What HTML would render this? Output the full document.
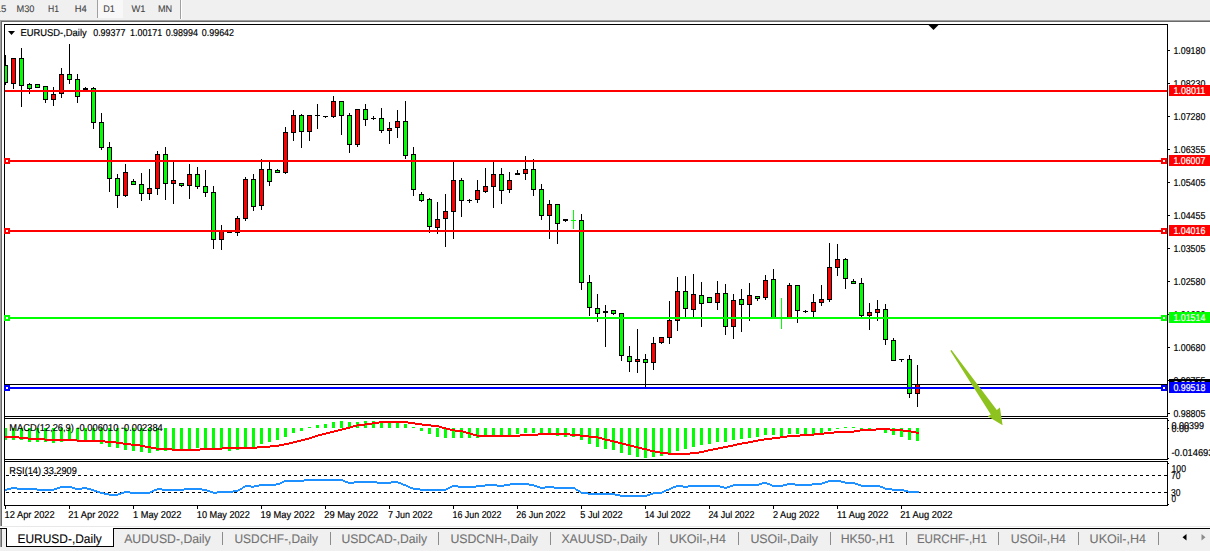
<!DOCTYPE html>
<html><head><meta charset="utf-8"><title>EURUSD-,Daily</title>
<style>html,body{margin:0;padding:0;background:#fff;overflow:hidden}svg{display:block}text{font-family:"Liberation Sans",sans-serif;text-rendering:geometricPrecision}</style>
</head><body>
<svg width="1210" height="551" viewBox="0 0 1210 551">
<rect x="0" y="0" width="1210" height="551" fill="#ffffff"/>
<g shape-rendering="crispEdges">
<rect x="0" y="0" width="1210" height="20" fill="#f0f0f0"/>
<rect x="98" y="0" width="25" height="18" fill="#f8f8f8"/>
<rect x="97" y="0" width="1" height="18" fill="#a0a0a0"/>
<rect x="180" y="0" width="1" height="19" fill="#a0a0a0"/>
<rect x="181" y="0" width="1" height="19" fill="#ffffff"/>
<rect x="0" y="20" width="1210" height="1" fill="#a0a0a0"/>
<rect x="0" y="21" width="1210" height="1" fill="#696969"/>
<rect x="0" y="22" width="1" height="504" fill="#a0a0a0"/>
<rect x="1" y="22" width="1" height="504" fill="#696969"/>
<rect x="0" y="20" width="1" height="2" fill="#a0a0a0"/>
<rect x="4" y="24" width="1164" height="1" fill="#000"/>
<rect x="4" y="24" width="1" height="482" fill="#000"/>
<rect x="1167" y="24" width="1" height="482" fill="#000"/>
<rect x="4" y="416" width="1164" height="1" fill="#000"/>
<rect x="4" y="418" width="1164" height="1" fill="#000"/>
<rect x="4" y="459" width="1164" height="1" fill="#000"/>
<rect x="4" y="461" width="1164" height="1" fill="#000"/>
<rect x="4" y="505" width="1164" height="1" fill="#000"/>
<rect x="5" y="417" width="1162" height="1" fill="#fff"/>
<rect x="5" y="460" width="1162" height="1" fill="#fff"/>
<rect x="5" y="384" width="1162" height="1" fill="#000"/>
<rect x="5" y="55" width="1" height="30" fill="#000"/>
<rect x="3" y="65" width="5" height="18" fill="#000"/>
<rect x="4" y="66" width="3" height="16" fill="#00ff00"/>
<rect x="13" y="58" width="1" height="31" fill="#000"/>
<rect x="11" y="58" width="5" height="26" fill="#000"/>
<rect x="12" y="59" width="3" height="24" fill="#ff0000"/>
<rect x="21" y="48" width="1" height="59" fill="#000"/>
<rect x="19" y="58" width="5" height="28" fill="#000"/>
<rect x="20" y="59" width="3" height="26" fill="#00ff00"/>
<rect x="29" y="83" width="1" height="11" fill="#000"/>
<rect x="27" y="84" width="5" height="5" fill="#000"/>
<rect x="28" y="85" width="3" height="3" fill="#00ff00"/>
<rect x="37" y="84" width="1" height="4" fill="#000"/>
<rect x="35" y="84" width="5" height="4" fill="#000"/>
<rect x="36" y="85" width="3" height="2" fill="#00ff00"/>
<rect x="45" y="86" width="1" height="17" fill="#000"/>
<rect x="43" y="86" width="5" height="14" fill="#000"/>
<rect x="44" y="87" width="3" height="12" fill="#00ff00"/>
<rect x="53" y="87" width="1" height="19" fill="#000"/>
<rect x="51" y="94" width="5" height="6" fill="#000"/>
<rect x="52" y="95" width="3" height="4" fill="#ff0000"/>
<rect x="61" y="68" width="1" height="30" fill="#000"/>
<rect x="59" y="74" width="5" height="20" fill="#000"/>
<rect x="60" y="75" width="3" height="18" fill="#ff0000"/>
<rect x="69" y="44" width="1" height="40" fill="#000"/>
<rect x="67" y="74" width="5" height="6" fill="#000"/>
<rect x="68" y="75" width="3" height="4" fill="#00ff00"/>
<rect x="77" y="74" width="1" height="29" fill="#000"/>
<rect x="75" y="79" width="5" height="18" fill="#000"/>
<rect x="76" y="80" width="3" height="16" fill="#00ff00"/>
<rect x="85" y="87" width="1" height="3" fill="#000"/>
<rect x="83" y="88" width="5" height="2" fill="#000"/>
<rect x="93" y="87" width="1" height="42" fill="#000"/>
<rect x="91" y="88" width="5" height="35" fill="#000"/>
<rect x="92" y="89" width="3" height="33" fill="#00ff00"/>
<rect x="101" y="113" width="1" height="37" fill="#000"/>
<rect x="99" y="122" width="5" height="26" fill="#000"/>
<rect x="100" y="123" width="3" height="24" fill="#00ff00"/>
<rect x="109" y="142" width="1" height="50" fill="#000"/>
<rect x="107" y="147" width="5" height="32" fill="#000"/>
<rect x="108" y="148" width="3" height="30" fill="#00ff00"/>
<rect x="117" y="174" width="1" height="34" fill="#000"/>
<rect x="115" y="178" width="5" height="18" fill="#000"/>
<rect x="116" y="179" width="3" height="16" fill="#00ff00"/>
<rect x="125" y="164" width="1" height="33" fill="#000"/>
<rect x="123" y="172" width="5" height="24" fill="#000"/>
<rect x="124" y="173" width="3" height="22" fill="#ff0000"/>
<rect x="133" y="179" width="1" height="6" fill="#000"/>
<rect x="131" y="181" width="5" height="4" fill="#000"/>
<rect x="132" y="182" width="3" height="2" fill="#00ff00"/>
<rect x="141" y="173" width="1" height="28" fill="#000"/>
<rect x="139" y="184" width="5" height="10" fill="#000"/>
<rect x="140" y="185" width="3" height="8" fill="#00ff00"/>
<rect x="149" y="169" width="1" height="31" fill="#000"/>
<rect x="147" y="188" width="5" height="6" fill="#000"/>
<rect x="148" y="189" width="3" height="4" fill="#ff0000"/>
<rect x="157" y="151" width="1" height="44" fill="#000"/>
<rect x="155" y="154" width="5" height="35" fill="#000"/>
<rect x="156" y="155" width="3" height="33" fill="#ff0000"/>
<rect x="165" y="147" width="1" height="53" fill="#000"/>
<rect x="163" y="154" width="5" height="30" fill="#000"/>
<rect x="164" y="155" width="3" height="28" fill="#00ff00"/>
<rect x="173" y="162" width="1" height="42" fill="#000"/>
<rect x="171" y="180" width="5" height="4" fill="#000"/>
<rect x="172" y="181" width="3" height="2" fill="#ff0000"/>
<rect x="181" y="183" width="1" height="4" fill="#000"/>
<rect x="179" y="183" width="5" height="3" fill="#000"/>
<rect x="180" y="184" width="3" height="1" fill="#00ff00"/>
<rect x="189" y="164" width="1" height="35" fill="#000"/>
<rect x="187" y="174" width="5" height="12" fill="#000"/>
<rect x="188" y="175" width="3" height="10" fill="#ff0000"/>
<rect x="197" y="167" width="1" height="22" fill="#000"/>
<rect x="195" y="174" width="5" height="13" fill="#000"/>
<rect x="196" y="175" width="3" height="11" fill="#00ff00"/>
<rect x="205" y="170" width="1" height="27" fill="#000"/>
<rect x="203" y="186" width="5" height="7" fill="#000"/>
<rect x="204" y="187" width="3" height="5" fill="#00ff00"/>
<rect x="213" y="186" width="1" height="63" fill="#000"/>
<rect x="211" y="192" width="5" height="48" fill="#000"/>
<rect x="212" y="193" width="3" height="46" fill="#00ff00"/>
<rect x="221" y="225" width="1" height="25" fill="#000"/>
<rect x="219" y="231" width="5" height="9" fill="#000"/>
<rect x="220" y="232" width="3" height="7" fill="#ff0000"/>
<rect x="229" y="232" width="1" height="1" fill="#000"/>
<rect x="227" y="232" width="5" height="1" fill="#000"/>
<rect x="237" y="216" width="1" height="20" fill="#000"/>
<rect x="235" y="218" width="5" height="15" fill="#000"/>
<rect x="236" y="219" width="3" height="13" fill="#ff0000"/>
<rect x="245" y="177" width="1" height="44" fill="#000"/>
<rect x="243" y="179" width="5" height="40" fill="#000"/>
<rect x="244" y="180" width="3" height="38" fill="#ff0000"/>
<rect x="253" y="174" width="1" height="37" fill="#000"/>
<rect x="251" y="179" width="5" height="28" fill="#000"/>
<rect x="252" y="180" width="3" height="26" fill="#00ff00"/>
<rect x="261" y="159" width="1" height="51" fill="#000"/>
<rect x="259" y="169" width="5" height="37" fill="#000"/>
<rect x="260" y="170" width="3" height="35" fill="#ff0000"/>
<rect x="269" y="162" width="1" height="24" fill="#000"/>
<rect x="267" y="169" width="5" height="13" fill="#000"/>
<rect x="268" y="170" width="3" height="11" fill="#00ff00"/>
<rect x="277" y="169" width="1" height="4" fill="#000"/>
<rect x="275" y="170" width="5" height="3" fill="#000"/>
<rect x="276" y="171" width="3" height="1" fill="#00ff00"/>
<rect x="285" y="127" width="1" height="47" fill="#000"/>
<rect x="283" y="132" width="5" height="41" fill="#000"/>
<rect x="284" y="133" width="3" height="39" fill="#ff0000"/>
<rect x="293" y="110" width="1" height="31" fill="#000"/>
<rect x="291" y="115" width="5" height="18" fill="#000"/>
<rect x="292" y="116" width="3" height="16" fill="#ff0000"/>
<rect x="301" y="114" width="1" height="34" fill="#000"/>
<rect x="299" y="115" width="5" height="17" fill="#000"/>
<rect x="300" y="116" width="3" height="15" fill="#00ff00"/>
<rect x="309" y="115" width="1" height="26" fill="#000"/>
<rect x="307" y="115" width="5" height="17" fill="#000"/>
<rect x="308" y="116" width="3" height="15" fill="#ff0000"/>
<rect x="317" y="104" width="1" height="25" fill="#000"/>
<rect x="315" y="115" width="5" height="1" fill="#000"/>
<rect x="325" y="116" width="1" height="2" fill="#000"/>
<rect x="323" y="116" width="5" height="1" fill="#000"/>
<rect x="333" y="96" width="1" height="22" fill="#000"/>
<rect x="331" y="101" width="5" height="16" fill="#000"/>
<rect x="332" y="102" width="3" height="14" fill="#ff0000"/>
<rect x="341" y="101" width="1" height="34" fill="#000"/>
<rect x="339" y="101" width="5" height="15" fill="#000"/>
<rect x="340" y="102" width="3" height="13" fill="#00ff00"/>
<rect x="349" y="113" width="1" height="40" fill="#000"/>
<rect x="347" y="115" width="5" height="30" fill="#000"/>
<rect x="348" y="116" width="3" height="28" fill="#00ff00"/>
<rect x="357" y="109" width="1" height="38" fill="#000"/>
<rect x="355" y="109" width="5" height="36" fill="#000"/>
<rect x="356" y="110" width="3" height="34" fill="#ff0000"/>
<rect x="365" y="104" width="1" height="22" fill="#000"/>
<rect x="363" y="109" width="5" height="11" fill="#000"/>
<rect x="364" y="110" width="3" height="9" fill="#00ff00"/>
<rect x="373" y="116" width="1" height="4" fill="#000"/>
<rect x="371" y="118" width="5" height="1" fill="#000"/>
<rect x="381" y="108" width="1" height="25" fill="#000"/>
<rect x="379" y="118" width="5" height="13" fill="#000"/>
<rect x="380" y="119" width="3" height="11" fill="#00ff00"/>
<rect x="389" y="122" width="1" height="22" fill="#000"/>
<rect x="387" y="128" width="5" height="3" fill="#000"/>
<rect x="388" y="129" width="3" height="1" fill="#ff0000"/>
<rect x="397" y="110" width="1" height="28" fill="#000"/>
<rect x="395" y="121" width="5" height="7" fill="#000"/>
<rect x="396" y="122" width="3" height="5" fill="#ff0000"/>
<rect x="405" y="101" width="1" height="58" fill="#000"/>
<rect x="403" y="121" width="5" height="35" fill="#000"/>
<rect x="404" y="122" width="3" height="33" fill="#00ff00"/>
<rect x="413" y="147" width="1" height="49" fill="#000"/>
<rect x="411" y="154" width="5" height="36" fill="#000"/>
<rect x="412" y="155" width="3" height="34" fill="#00ff00"/>
<rect x="421" y="192" width="1" height="10" fill="#000"/>
<rect x="419" y="194" width="5" height="7" fill="#000"/>
<rect x="420" y="195" width="3" height="5" fill="#00ff00"/>
<rect x="429" y="198" width="1" height="35" fill="#000"/>
<rect x="427" y="199" width="5" height="28" fill="#000"/>
<rect x="428" y="200" width="3" height="26" fill="#00ff00"/>
<rect x="437" y="202" width="1" height="32" fill="#000"/>
<rect x="435" y="219" width="5" height="9" fill="#000"/>
<rect x="436" y="220" width="3" height="7" fill="#ff0000"/>
<rect x="445" y="194" width="1" height="53" fill="#000"/>
<rect x="443" y="211" width="5" height="8" fill="#000"/>
<rect x="444" y="212" width="3" height="6" fill="#ff0000"/>
<rect x="453" y="162" width="1" height="77" fill="#000"/>
<rect x="451" y="180" width="5" height="32" fill="#000"/>
<rect x="452" y="181" width="3" height="30" fill="#ff0000"/>
<rect x="461" y="178" width="1" height="39" fill="#000"/>
<rect x="459" y="180" width="5" height="21" fill="#000"/>
<rect x="460" y="181" width="3" height="19" fill="#00ff00"/>
<rect x="469" y="199" width="1" height="4" fill="#000"/>
<rect x="467" y="200" width="5" height="1" fill="#000"/>
<rect x="477" y="180" width="1" height="23" fill="#000"/>
<rect x="475" y="190" width="5" height="10" fill="#000"/>
<rect x="476" y="191" width="3" height="8" fill="#ff0000"/>
<rect x="485" y="168" width="1" height="25" fill="#000"/>
<rect x="483" y="186" width="5" height="6" fill="#000"/>
<rect x="484" y="187" width="3" height="4" fill="#ff0000"/>
<rect x="493" y="162" width="1" height="46" fill="#000"/>
<rect x="491" y="174" width="5" height="13" fill="#000"/>
<rect x="492" y="175" width="3" height="11" fill="#ff0000"/>
<rect x="501" y="168" width="1" height="36" fill="#000"/>
<rect x="499" y="174" width="5" height="17" fill="#000"/>
<rect x="500" y="175" width="3" height="15" fill="#00ff00"/>
<rect x="509" y="172" width="1" height="21" fill="#000"/>
<rect x="507" y="180" width="5" height="10" fill="#000"/>
<rect x="508" y="181" width="3" height="8" fill="#ff0000"/>
<rect x="517" y="170" width="1" height="5" fill="#000"/>
<rect x="515" y="173" width="5" height="2" fill="#000"/>
<rect x="525" y="156" width="1" height="24" fill="#000"/>
<rect x="523" y="169" width="5" height="5" fill="#000"/>
<rect x="524" y="170" width="3" height="3" fill="#ff0000"/>
<rect x="533" y="159" width="1" height="37" fill="#000"/>
<rect x="531" y="169" width="5" height="21" fill="#000"/>
<rect x="532" y="170" width="3" height="19" fill="#00ff00"/>
<rect x="541" y="184" width="1" height="36" fill="#000"/>
<rect x="539" y="189" width="5" height="27" fill="#000"/>
<rect x="540" y="190" width="3" height="25" fill="#00ff00"/>
<rect x="549" y="200" width="1" height="39" fill="#000"/>
<rect x="547" y="204" width="5" height="12" fill="#000"/>
<rect x="548" y="205" width="3" height="10" fill="#ff0000"/>
<rect x="557" y="204" width="1" height="40" fill="#000"/>
<rect x="555" y="204" width="5" height="20" fill="#000"/>
<rect x="556" y="205" width="3" height="18" fill="#00ff00"/>
<rect x="565" y="219" width="1" height="3" fill="#000"/>
<rect x="563" y="219" width="5" height="2" fill="#000"/>
<rect x="573" y="210" width="1" height="19" fill="#00ff00"/>
<rect x="571" y="220" width="5" height="1" fill="#00ff00"/>
<rect x="581" y="214" width="1" height="76" fill="#000"/>
<rect x="579" y="220" width="5" height="63" fill="#000"/>
<rect x="580" y="221" width="3" height="61" fill="#00ff00"/>
<rect x="589" y="275" width="1" height="41" fill="#000"/>
<rect x="587" y="282" width="5" height="26" fill="#000"/>
<rect x="588" y="283" width="3" height="24" fill="#00ff00"/>
<rect x="597" y="294" width="1" height="28" fill="#000"/>
<rect x="595" y="308" width="5" height="6" fill="#000"/>
<rect x="596" y="309" width="3" height="4" fill="#00ff00"/>
<rect x="605" y="305" width="1" height="42" fill="#000"/>
<rect x="603" y="311" width="5" height="2" fill="#000"/>
<rect x="613" y="310" width="1" height="5" fill="#000"/>
<rect x="611" y="310" width="5" height="4" fill="#000"/>
<rect x="612" y="311" width="3" height="2" fill="#00ff00"/>
<rect x="621" y="313" width="1" height="48" fill="#000"/>
<rect x="619" y="313" width="5" height="43" fill="#000"/>
<rect x="620" y="314" width="3" height="41" fill="#00ff00"/>
<rect x="629" y="346" width="1" height="26" fill="#000"/>
<rect x="627" y="356" width="5" height="6" fill="#000"/>
<rect x="628" y="357" width="3" height="4" fill="#00ff00"/>
<rect x="637" y="329" width="1" height="44" fill="#000"/>
<rect x="635" y="359" width="5" height="3" fill="#000"/>
<rect x="636" y="360" width="3" height="1" fill="#ff0000"/>
<rect x="645" y="354" width="1" height="33" fill="#000"/>
<rect x="643" y="359" width="5" height="4" fill="#000"/>
<rect x="644" y="360" width="3" height="2" fill="#00ff00"/>
<rect x="653" y="337" width="1" height="33" fill="#000"/>
<rect x="651" y="343" width="5" height="20" fill="#000"/>
<rect x="652" y="344" width="3" height="18" fill="#ff0000"/>
<rect x="661" y="337" width="1" height="7" fill="#000"/>
<rect x="659" y="337" width="5" height="6" fill="#000"/>
<rect x="660" y="338" width="3" height="4" fill="#ff0000"/>
<rect x="669" y="301" width="1" height="43" fill="#000"/>
<rect x="667" y="320" width="5" height="18" fill="#000"/>
<rect x="668" y="321" width="3" height="16" fill="#ff0000"/>
<rect x="677" y="277" width="1" height="54" fill="#000"/>
<rect x="675" y="291" width="5" height="30" fill="#000"/>
<rect x="676" y="292" width="3" height="28" fill="#ff0000"/>
<rect x="685" y="276" width="1" height="41" fill="#000"/>
<rect x="683" y="291" width="5" height="18" fill="#000"/>
<rect x="684" y="292" width="3" height="16" fill="#00ff00"/>
<rect x="693" y="274" width="1" height="43" fill="#000"/>
<rect x="691" y="294" width="5" height="16" fill="#000"/>
<rect x="692" y="295" width="3" height="14" fill="#ff0000"/>
<rect x="701" y="282" width="1" height="45" fill="#000"/>
<rect x="699" y="295" width="5" height="9" fill="#000"/>
<rect x="700" y="296" width="3" height="7" fill="#00ff00"/>
<rect x="709" y="297" width="1" height="6" fill="#000"/>
<rect x="707" y="297" width="5" height="6" fill="#000"/>
<rect x="708" y="298" width="3" height="4" fill="#00ff00"/>
<rect x="717" y="281" width="1" height="29" fill="#000"/>
<rect x="715" y="293" width="5" height="10" fill="#000"/>
<rect x="716" y="294" width="3" height="8" fill="#ff0000"/>
<rect x="725" y="284" width="1" height="51" fill="#000"/>
<rect x="723" y="293" width="5" height="34" fill="#000"/>
<rect x="724" y="294" width="3" height="32" fill="#00ff00"/>
<rect x="733" y="294" width="1" height="45" fill="#000"/>
<rect x="731" y="300" width="5" height="27" fill="#000"/>
<rect x="732" y="301" width="3" height="25" fill="#ff0000"/>
<rect x="741" y="289" width="1" height="43" fill="#000"/>
<rect x="739" y="299" width="5" height="6" fill="#000"/>
<rect x="740" y="300" width="3" height="4" fill="#00ff00"/>
<rect x="749" y="283" width="1" height="38" fill="#000"/>
<rect x="747" y="295" width="5" height="10" fill="#000"/>
<rect x="748" y="296" width="3" height="8" fill="#ff0000"/>
<rect x="757" y="296" width="1" height="5" fill="#000"/>
<rect x="755" y="296" width="5" height="3" fill="#000"/>
<rect x="756" y="297" width="3" height="1" fill="#00ff00"/>
<rect x="765" y="275" width="1" height="25" fill="#000"/>
<rect x="763" y="280" width="5" height="18" fill="#000"/>
<rect x="764" y="281" width="3" height="16" fill="#ff0000"/>
<rect x="773" y="269" width="1" height="49" fill="#000"/>
<rect x="771" y="279" width="5" height="39" fill="#000"/>
<rect x="772" y="280" width="3" height="37" fill="#00ff00"/>
<rect x="781" y="298" width="1" height="31" fill="#00ff00"/>
<rect x="779" y="317" width="5" height="1" fill="#00ff00"/>
<rect x="789" y="283" width="1" height="35" fill="#000"/>
<rect x="787" y="285" width="5" height="33" fill="#000"/>
<rect x="788" y="286" width="3" height="31" fill="#ff0000"/>
<rect x="797" y="285" width="1" height="38" fill="#000"/>
<rect x="795" y="285" width="5" height="26" fill="#000"/>
<rect x="796" y="286" width="3" height="24" fill="#00ff00"/>
<rect x="805" y="310" width="1" height="3" fill="#000"/>
<rect x="803" y="311" width="5" height="1" fill="#000"/>
<rect x="813" y="294" width="1" height="23" fill="#000"/>
<rect x="811" y="302" width="5" height="10" fill="#000"/>
<rect x="812" y="303" width="3" height="8" fill="#ff0000"/>
<rect x="821" y="285" width="1" height="21" fill="#000"/>
<rect x="819" y="299" width="5" height="4" fill="#000"/>
<rect x="820" y="300" width="3" height="2" fill="#ff0000"/>
<rect x="829" y="243" width="1" height="59" fill="#000"/>
<rect x="827" y="267" width="5" height="33" fill="#000"/>
<rect x="828" y="268" width="3" height="31" fill="#ff0000"/>
<rect x="837" y="244" width="1" height="32" fill="#000"/>
<rect x="835" y="259" width="5" height="9" fill="#000"/>
<rect x="836" y="260" width="3" height="7" fill="#ff0000"/>
<rect x="845" y="258" width="1" height="31" fill="#000"/>
<rect x="843" y="259" width="5" height="20" fill="#000"/>
<rect x="844" y="260" width="3" height="18" fill="#00ff00"/>
<rect x="853" y="279" width="1" height="5" fill="#000"/>
<rect x="851" y="281" width="5" height="3" fill="#000"/>
<rect x="852" y="282" width="3" height="1" fill="#00ff00"/>
<rect x="861" y="278" width="1" height="39" fill="#000"/>
<rect x="859" y="283" width="5" height="33" fill="#000"/>
<rect x="860" y="284" width="3" height="31" fill="#00ff00"/>
<rect x="869" y="303" width="1" height="27" fill="#000"/>
<rect x="867" y="312" width="5" height="4" fill="#000"/>
<rect x="868" y="313" width="3" height="2" fill="#ff0000"/>
<rect x="877" y="300" width="1" height="21" fill="#000"/>
<rect x="875" y="309" width="5" height="4" fill="#000"/>
<rect x="876" y="310" width="3" height="2" fill="#ff0000"/>
<rect x="885" y="304" width="1" height="41" fill="#000"/>
<rect x="883" y="309" width="5" height="31" fill="#000"/>
<rect x="884" y="310" width="3" height="29" fill="#00ff00"/>
<rect x="893" y="338" width="1" height="23" fill="#000"/>
<rect x="891" y="340" width="5" height="21" fill="#000"/>
<rect x="892" y="341" width="3" height="19" fill="#00ff00"/>
<rect x="901" y="359" width="1" height="3" fill="#000"/>
<rect x="899" y="359" width="5" height="1" fill="#000"/>
<rect x="909" y="355" width="1" height="43" fill="#000"/>
<rect x="907" y="359" width="5" height="35" fill="#000"/>
<rect x="908" y="360" width="3" height="33" fill="#00ff00"/>
<rect x="917" y="365" width="1" height="42" fill="#000"/>
<rect x="915" y="384" width="5" height="10" fill="#000"/>
<rect x="916" y="385" width="3" height="8" fill="#ff0000"/>
<rect x="4" y="428" width="3" height="12" fill="#00ff00"/>
<rect x="12" y="428" width="3" height="12" fill="#00ff00"/>
<rect x="20" y="428" width="3" height="12" fill="#00ff00"/>
<rect x="28" y="428" width="3" height="14" fill="#00ff00"/>
<rect x="36" y="428" width="3" height="14" fill="#00ff00"/>
<rect x="44" y="428" width="3" height="14" fill="#00ff00"/>
<rect x="52" y="428" width="3" height="15" fill="#00ff00"/>
<rect x="60" y="428" width="3" height="14" fill="#00ff00"/>
<rect x="68" y="428" width="3" height="12" fill="#00ff00"/>
<rect x="76" y="428" width="3" height="13" fill="#00ff00"/>
<rect x="84" y="428" width="3" height="13" fill="#00ff00"/>
<rect x="92" y="428" width="3" height="14" fill="#00ff00"/>
<rect x="100" y="428" width="3" height="16" fill="#00ff00"/>
<rect x="108" y="428" width="3" height="19" fill="#00ff00"/>
<rect x="116" y="428" width="3" height="20" fill="#00ff00"/>
<rect x="124" y="428" width="3" height="22" fill="#00ff00"/>
<rect x="132" y="428" width="3" height="23" fill="#00ff00"/>
<rect x="140" y="428" width="3" height="24" fill="#00ff00"/>
<rect x="148" y="428" width="3" height="25" fill="#00ff00"/>
<rect x="156" y="428" width="3" height="23" fill="#00ff00"/>
<rect x="164" y="428" width="3" height="23" fill="#00ff00"/>
<rect x="172" y="428" width="3" height="22" fill="#00ff00"/>
<rect x="180" y="428" width="3" height="22" fill="#00ff00"/>
<rect x="188" y="428" width="3" height="22" fill="#00ff00"/>
<rect x="196" y="428" width="3" height="20" fill="#00ff00"/>
<rect x="204" y="428" width="3" height="20" fill="#00ff00"/>
<rect x="212" y="428" width="3" height="21" fill="#00ff00"/>
<rect x="220" y="428" width="3" height="21" fill="#00ff00"/>
<rect x="228" y="428" width="3" height="23" fill="#00ff00"/>
<rect x="236" y="428" width="3" height="22" fill="#00ff00"/>
<rect x="244" y="428" width="3" height="20" fill="#00ff00"/>
<rect x="252" y="428" width="3" height="19" fill="#00ff00"/>
<rect x="260" y="428" width="3" height="16" fill="#00ff00"/>
<rect x="268" y="428" width="3" height="14" fill="#00ff00"/>
<rect x="276" y="428" width="3" height="12" fill="#00ff00"/>
<rect x="284" y="428" width="3" height="9" fill="#00ff00"/>
<rect x="292" y="428" width="3" height="5" fill="#00ff00"/>
<rect x="300" y="428" width="3" height="3" fill="#00ff00"/>
<rect x="308" y="427" width="3" height="1" fill="#00ff00"/>
<rect x="316" y="425" width="3" height="3" fill="#00ff00"/>
<rect x="324" y="424" width="3" height="4" fill="#00ff00"/>
<rect x="332" y="422" width="3" height="6" fill="#00ff00"/>
<rect x="340" y="421" width="3" height="7" fill="#00ff00"/>
<rect x="348" y="422" width="3" height="6" fill="#00ff00"/>
<rect x="356" y="422" width="3" height="6" fill="#00ff00"/>
<rect x="364" y="421" width="3" height="7" fill="#00ff00"/>
<rect x="372" y="421" width="3" height="7" fill="#00ff00"/>
<rect x="380" y="422" width="3" height="6" fill="#00ff00"/>
<rect x="388" y="422" width="3" height="6" fill="#00ff00"/>
<rect x="396" y="422" width="3" height="6" fill="#00ff00"/>
<rect x="404" y="424" width="3" height="4" fill="#00ff00"/>
<rect x="412" y="427" width="3" height="1" fill="#00ff00"/>
<rect x="420" y="428" width="3" height="3" fill="#00ff00"/>
<rect x="428" y="428" width="3" height="6" fill="#00ff00"/>
<rect x="436" y="428" width="3" height="9" fill="#00ff00"/>
<rect x="444" y="428" width="3" height="10" fill="#00ff00"/>
<rect x="452" y="428" width="3" height="10" fill="#00ff00"/>
<rect x="460" y="428" width="3" height="10" fill="#00ff00"/>
<rect x="468" y="428" width="3" height="10" fill="#00ff00"/>
<rect x="476" y="428" width="3" height="10" fill="#00ff00"/>
<rect x="484" y="428" width="3" height="8" fill="#00ff00"/>
<rect x="492" y="428" width="3" height="8" fill="#00ff00"/>
<rect x="500" y="428" width="3" height="8" fill="#00ff00"/>
<rect x="508" y="428" width="3" height="7" fill="#00ff00"/>
<rect x="516" y="428" width="3" height="6" fill="#00ff00"/>
<rect x="524" y="428" width="3" height="5" fill="#00ff00"/>
<rect x="532" y="428" width="3" height="5" fill="#00ff00"/>
<rect x="540" y="428" width="3" height="6" fill="#00ff00"/>
<rect x="548" y="428" width="3" height="6" fill="#00ff00"/>
<rect x="556" y="428" width="3" height="8" fill="#00ff00"/>
<rect x="564" y="428" width="3" height="9" fill="#00ff00"/>
<rect x="572" y="428" width="3" height="9" fill="#00ff00"/>
<rect x="580" y="428" width="3" height="12" fill="#00ff00"/>
<rect x="588" y="428" width="3" height="16" fill="#00ff00"/>
<rect x="596" y="428" width="3" height="19" fill="#00ff00"/>
<rect x="604" y="428" width="3" height="21" fill="#00ff00"/>
<rect x="612" y="428" width="3" height="22" fill="#00ff00"/>
<rect x="620" y="428" width="3" height="25" fill="#00ff00"/>
<rect x="628" y="428" width="3" height="27" fill="#00ff00"/>
<rect x="636" y="428" width="3" height="29" fill="#00ff00"/>
<rect x="644" y="428" width="3" height="30" fill="#00ff00"/>
<rect x="652" y="428" width="3" height="29" fill="#00ff00"/>
<rect x="660" y="428" width="3" height="28" fill="#00ff00"/>
<rect x="668" y="428" width="3" height="25" fill="#00ff00"/>
<rect x="676" y="428" width="3" height="23" fill="#00ff00"/>
<rect x="684" y="428" width="3" height="21" fill="#00ff00"/>
<rect x="692" y="428" width="3" height="19" fill="#00ff00"/>
<rect x="700" y="428" width="3" height="17" fill="#00ff00"/>
<rect x="708" y="428" width="3" height="16" fill="#00ff00"/>
<rect x="716" y="428" width="3" height="14" fill="#00ff00"/>
<rect x="724" y="428" width="3" height="14" fill="#00ff00"/>
<rect x="732" y="428" width="3" height="12" fill="#00ff00"/>
<rect x="740" y="428" width="3" height="11" fill="#00ff00"/>
<rect x="748" y="428" width="3" height="10" fill="#00ff00"/>
<rect x="756" y="428" width="3" height="9" fill="#00ff00"/>
<rect x="764" y="428" width="3" height="7" fill="#00ff00"/>
<rect x="772" y="428" width="3" height="7" fill="#00ff00"/>
<rect x="780" y="428" width="3" height="8" fill="#00ff00"/>
<rect x="788" y="428" width="3" height="6" fill="#00ff00"/>
<rect x="796" y="428" width="3" height="6" fill="#00ff00"/>
<rect x="804" y="428" width="3" height="6" fill="#00ff00"/>
<rect x="812" y="428" width="3" height="6" fill="#00ff00"/>
<rect x="820" y="428" width="3" height="5" fill="#00ff00"/>
<rect x="828" y="428" width="3" height="3" fill="#00ff00"/>
<rect x="836" y="428" width="3" height="1" fill="#00ff00"/>
<rect x="844" y="427" width="3" height="1" fill="#00ff00"/>
<rect x="852" y="427" width="3" height="1" fill="#00ff00"/>
<rect x="860" y="428" width="3" height="1" fill="#00ff00"/>
<rect x="868" y="428" width="3" height="2" fill="#00ff00"/>
<rect x="876" y="428" width="3" height="2" fill="#00ff00"/>
<rect x="884" y="428" width="3" height="5" fill="#00ff00"/>
<rect x="892" y="428" width="3" height="7" fill="#00ff00"/>
<rect x="900" y="428" width="3" height="9" fill="#00ff00"/>
<rect x="908" y="428" width="3" height="12" fill="#00ff00"/>
<rect x="916" y="428" width="3" height="13" fill="#00ff00"/>
<rect x="2" y="25" width="2" height="480" fill="#fff"/>
<rect x="4" y="24" width="1" height="482" fill="#000"/>
</g>
<g shape-rendering="crispEdges">
<rect x="5" y="436" width="14" height="2" fill="#ff0000"/>
<rect x="19" y="437" width="9" height="2" fill="#ff0000"/>
<rect x="28" y="438" width="17" height="2" fill="#ff0000"/>
<rect x="45" y="439" width="32" height="2" fill="#ff0000"/>
<rect x="77" y="440" width="28" height="2" fill="#ff0000"/>
<rect x="105" y="441" width="11" height="2" fill="#ff0000"/>
<rect x="116" y="442" width="7" height="2" fill="#ff0000"/>
<rect x="123" y="443" width="8" height="2" fill="#ff0000"/>
<rect x="131" y="444" width="9" height="2" fill="#ff0000"/>
<rect x="140" y="445" width="5" height="2" fill="#ff0000"/>
<rect x="145" y="446" width="6" height="2" fill="#ff0000"/>
<rect x="151" y="447" width="5" height="2" fill="#ff0000"/>
<rect x="156" y="448" width="16" height="2" fill="#ff0000"/>
<rect x="172" y="449" width="28" height="2" fill="#ff0000"/>
<rect x="200" y="448" width="22" height="2" fill="#ff0000"/>
<rect x="222" y="447" width="35" height="2" fill="#ff0000"/>
<rect x="257" y="446" width="13" height="2" fill="#ff0000"/>
<rect x="270" y="445" width="9" height="2" fill="#ff0000"/>
<rect x="279" y="444" width="5" height="2" fill="#ff0000"/>
<rect x="284" y="443" width="5" height="2" fill="#ff0000"/>
<rect x="289" y="442" width="4" height="2" fill="#ff0000"/>
<rect x="293" y="441" width="4" height="2" fill="#ff0000"/>
<rect x="297" y="440" width="4" height="2" fill="#ff0000"/>
<rect x="301" y="439" width="4" height="2" fill="#ff0000"/>
<rect x="305" y="438" width="4" height="2" fill="#ff0000"/>
<rect x="309" y="437" width="3" height="2" fill="#ff0000"/>
<rect x="312" y="436" width="3" height="2" fill="#ff0000"/>
<rect x="315" y="435" width="3" height="2" fill="#ff0000"/>
<rect x="318" y="434" width="4" height="2" fill="#ff0000"/>
<rect x="322" y="433" width="4" height="2" fill="#ff0000"/>
<rect x="326" y="432" width="4" height="2" fill="#ff0000"/>
<rect x="330" y="431" width="4" height="2" fill="#ff0000"/>
<rect x="334" y="430" width="4" height="2" fill="#ff0000"/>
<rect x="338" y="429" width="4" height="2" fill="#ff0000"/>
<rect x="342" y="428" width="4" height="2" fill="#ff0000"/>
<rect x="346" y="427" width="4" height="2" fill="#ff0000"/>
<rect x="350" y="426" width="3" height="2" fill="#ff0000"/>
<rect x="353" y="425" width="4" height="2" fill="#ff0000"/>
<rect x="357" y="424" width="8" height="2" fill="#ff0000"/>
<rect x="365" y="423" width="7" height="2" fill="#ff0000"/>
<rect x="372" y="422" width="7" height="2" fill="#ff0000"/>
<rect x="379" y="421" width="29" height="2" fill="#ff0000"/>
<rect x="408" y="422" width="7" height="2" fill="#ff0000"/>
<rect x="415" y="423" width="7" height="2" fill="#ff0000"/>
<rect x="422" y="424" width="9" height="2" fill="#ff0000"/>
<rect x="431" y="425" width="8" height="2" fill="#ff0000"/>
<rect x="439" y="426" width="3" height="2" fill="#ff0000"/>
<rect x="442" y="427" width="4" height="2" fill="#ff0000"/>
<rect x="446" y="428" width="4" height="2" fill="#ff0000"/>
<rect x="450" y="429" width="5" height="2" fill="#ff0000"/>
<rect x="455" y="430" width="8" height="2" fill="#ff0000"/>
<rect x="463" y="431" width="3" height="2" fill="#ff0000"/>
<rect x="466" y="432" width="4" height="2" fill="#ff0000"/>
<rect x="470" y="433" width="3" height="2" fill="#ff0000"/>
<rect x="473" y="434" width="4" height="2" fill="#ff0000"/>
<rect x="477" y="435" width="43" height="2" fill="#ff0000"/>
<rect x="520" y="434" width="18" height="2" fill="#ff0000"/>
<rect x="538" y="433" width="32" height="2" fill="#ff0000"/>
<rect x="570" y="434" width="10" height="2" fill="#ff0000"/>
<rect x="580" y="435" width="9" height="2" fill="#ff0000"/>
<rect x="589" y="436" width="9" height="2" fill="#ff0000"/>
<rect x="598" y="437" width="4" height="2" fill="#ff0000"/>
<rect x="602" y="438" width="3" height="2" fill="#ff0000"/>
<rect x="605" y="439" width="5" height="2" fill="#ff0000"/>
<rect x="610" y="440" width="4" height="2" fill="#ff0000"/>
<rect x="614" y="441" width="4" height="2" fill="#ff0000"/>
<rect x="618" y="442" width="4" height="2" fill="#ff0000"/>
<rect x="622" y="443" width="4" height="2" fill="#ff0000"/>
<rect x="626" y="444" width="4" height="2" fill="#ff0000"/>
<rect x="630" y="445" width="4" height="2" fill="#ff0000"/>
<rect x="634" y="446" width="4" height="2" fill="#ff0000"/>
<rect x="638" y="447" width="4" height="2" fill="#ff0000"/>
<rect x="642" y="448" width="5" height="2" fill="#ff0000"/>
<rect x="647" y="449" width="3" height="2" fill="#ff0000"/>
<rect x="650" y="450" width="5" height="2" fill="#ff0000"/>
<rect x="655" y="451" width="5" height="2" fill="#ff0000"/>
<rect x="660" y="452" width="8" height="2" fill="#ff0000"/>
<rect x="668" y="453" width="22" height="2" fill="#ff0000"/>
<rect x="690" y="452" width="9" height="2" fill="#ff0000"/>
<rect x="699" y="451" width="5" height="2" fill="#ff0000"/>
<rect x="704" y="450" width="4" height="2" fill="#ff0000"/>
<rect x="708" y="449" width="5" height="2" fill="#ff0000"/>
<rect x="713" y="448" width="5" height="2" fill="#ff0000"/>
<rect x="718" y="447" width="5" height="2" fill="#ff0000"/>
<rect x="723" y="446" width="5" height="2" fill="#ff0000"/>
<rect x="728" y="445" width="5" height="2" fill="#ff0000"/>
<rect x="733" y="444" width="4" height="2" fill="#ff0000"/>
<rect x="737" y="443" width="5" height="2" fill="#ff0000"/>
<rect x="742" y="442" width="6" height="2" fill="#ff0000"/>
<rect x="748" y="441" width="5" height="2" fill="#ff0000"/>
<rect x="753" y="440" width="5" height="2" fill="#ff0000"/>
<rect x="758" y="439" width="6" height="2" fill="#ff0000"/>
<rect x="764" y="438" width="8" height="2" fill="#ff0000"/>
<rect x="772" y="437" width="8" height="2" fill="#ff0000"/>
<rect x="780" y="436" width="7" height="2" fill="#ff0000"/>
<rect x="787" y="435" width="13" height="2" fill="#ff0000"/>
<rect x="800" y="434" width="14" height="2" fill="#ff0000"/>
<rect x="814" y="433" width="10" height="2" fill="#ff0000"/>
<rect x="824" y="432" width="10" height="2" fill="#ff0000"/>
<rect x="834" y="431" width="20" height="2" fill="#ff0000"/>
<rect x="854" y="430" width="6" height="2" fill="#ff0000"/>
<rect x="860" y="429" width="16" height="2" fill="#ff0000"/>
<rect x="876" y="428" width="14" height="2" fill="#ff0000"/>
<rect x="890" y="429" width="13" height="2" fill="#ff0000"/>
<rect x="903" y="430" width="8" height="2" fill="#ff0000"/>
<rect x="911" y="431" width="5" height="2" fill="#ff0000"/>
<rect x="916" y="432" width="3" height="2" fill="#ff0000"/>
</g>
<g shape-rendering="crispEdges">
<path d="M6 475.5H1167" stroke="#000" stroke-width="1" stroke-dasharray="3 3" fill="none"/>
<path d="M6 492.5H1167" stroke="#000" stroke-width="1" stroke-dasharray="3 3" fill="none"/>
</g>
<g shape-rendering="crispEdges">
<rect x="5" y="489" width="2" height="2" fill="#1e90ff"/>
<rect x="7" y="488" width="4" height="2" fill="#1e90ff"/>
<rect x="11" y="487" width="6" height="2" fill="#1e90ff"/>
<rect x="17" y="488" width="20" height="2" fill="#1e90ff"/>
<rect x="37" y="489" width="17" height="2" fill="#1e90ff"/>
<rect x="54" y="488" width="3" height="2" fill="#1e90ff"/>
<rect x="57" y="487" width="3" height="2" fill="#1e90ff"/>
<rect x="60" y="486" width="12" height="2" fill="#1e90ff"/>
<rect x="72" y="487" width="3" height="2" fill="#1e90ff"/>
<rect x="75" y="488" width="7" height="2" fill="#1e90ff"/>
<rect x="82" y="487" width="5" height="2" fill="#1e90ff"/>
<rect x="87" y="488" width="4" height="2" fill="#1e90ff"/>
<rect x="91" y="489" width="3" height="2" fill="#1e90ff"/>
<rect x="94" y="490" width="3" height="2" fill="#1e90ff"/>
<rect x="97" y="491" width="3" height="2" fill="#1e90ff"/>
<rect x="100" y="492" width="4" height="2" fill="#1e90ff"/>
<rect x="104" y="493" width="5" height="2" fill="#1e90ff"/>
<rect x="109" y="494" width="9" height="2" fill="#1e90ff"/>
<rect x="118" y="493" width="3" height="2" fill="#1e90ff"/>
<rect x="121" y="492" width="3" height="2" fill="#1e90ff"/>
<rect x="124" y="491" width="6" height="2" fill="#1e90ff"/>
<rect x="130" y="492" width="20" height="2" fill="#1e90ff"/>
<rect x="150" y="491" width="2" height="2" fill="#1e90ff"/>
<rect x="152" y="490" width="2" height="2" fill="#1e90ff"/>
<rect x="154" y="489" width="3" height="2" fill="#1e90ff"/>
<rect x="157" y="488" width="5" height="2" fill="#1e90ff"/>
<rect x="162" y="489" width="22" height="2" fill="#1e90ff"/>
<rect x="184" y="488" width="18" height="2" fill="#1e90ff"/>
<rect x="202" y="489" width="5" height="2" fill="#1e90ff"/>
<rect x="207" y="490" width="3" height="2" fill="#1e90ff"/>
<rect x="210" y="491" width="3" height="2" fill="#1e90ff"/>
<rect x="213" y="492" width="4" height="2" fill="#1e90ff"/>
<rect x="217" y="491" width="16" height="2" fill="#1e90ff"/>
<rect x="233" y="490" width="5" height="2" fill="#1e90ff"/>
<rect x="238" y="489" width="2" height="2" fill="#1e90ff"/>
<rect x="240" y="488" width="2" height="2" fill="#1e90ff"/>
<rect x="242" y="487" width="1" height="2" fill="#1e90ff"/>
<rect x="243" y="486" width="2" height="2" fill="#1e90ff"/>
<rect x="245" y="485" width="6" height="2" fill="#1e90ff"/>
<rect x="251" y="486" width="3" height="2" fill="#1e90ff"/>
<rect x="254" y="485" width="5" height="2" fill="#1e90ff"/>
<rect x="259" y="484" width="17" height="2" fill="#1e90ff"/>
<rect x="276" y="483" width="4" height="2" fill="#1e90ff"/>
<rect x="280" y="482" width="2" height="2" fill="#1e90ff"/>
<rect x="282" y="481" width="2" height="2" fill="#1e90ff"/>
<rect x="284" y="480" width="20" height="2" fill="#1e90ff"/>
<rect x="304" y="479" width="39" height="2" fill="#1e90ff"/>
<rect x="343" y="480" width="2" height="2" fill="#1e90ff"/>
<rect x="345" y="481" width="3" height="2" fill="#1e90ff"/>
<rect x="348" y="482" width="6" height="2" fill="#1e90ff"/>
<rect x="354" y="481" width="23" height="2" fill="#1e90ff"/>
<rect x="377" y="482" width="14" height="2" fill="#1e90ff"/>
<rect x="391" y="481" width="7" height="2" fill="#1e90ff"/>
<rect x="398" y="482" width="3" height="2" fill="#1e90ff"/>
<rect x="401" y="483" width="2" height="2" fill="#1e90ff"/>
<rect x="403" y="484" width="3" height="2" fill="#1e90ff"/>
<rect x="406" y="485" width="2" height="2" fill="#1e90ff"/>
<rect x="408" y="486" width="2" height="2" fill="#1e90ff"/>
<rect x="410" y="487" width="3" height="2" fill="#1e90ff"/>
<rect x="413" y="488" width="7" height="2" fill="#1e90ff"/>
<rect x="420" y="489" width="26" height="2" fill="#1e90ff"/>
<rect x="446" y="488" width="2" height="2" fill="#1e90ff"/>
<rect x="448" y="487" width="2" height="2" fill="#1e90ff"/>
<rect x="450" y="486" width="2" height="2" fill="#1e90ff"/>
<rect x="452" y="485" width="6" height="2" fill="#1e90ff"/>
<rect x="458" y="486" width="18" height="2" fill="#1e90ff"/>
<rect x="476" y="485" width="9" height="2" fill="#1e90ff"/>
<rect x="485" y="484" width="12" height="2" fill="#1e90ff"/>
<rect x="497" y="485" width="7" height="2" fill="#1e90ff"/>
<rect x="504" y="484" width="6" height="2" fill="#1e90ff"/>
<rect x="510" y="483" width="19" height="2" fill="#1e90ff"/>
<rect x="529" y="484" width="5" height="2" fill="#1e90ff"/>
<rect x="534" y="485" width="3" height="2" fill="#1e90ff"/>
<rect x="537" y="486" width="3" height="2" fill="#1e90ff"/>
<rect x="540" y="487" width="5" height="2" fill="#1e90ff"/>
<rect x="545" y="486" width="9" height="2" fill="#1e90ff"/>
<rect x="554" y="487" width="21" height="2" fill="#1e90ff"/>
<rect x="575" y="488" width="1" height="2" fill="#1e90ff"/>
<rect x="576" y="489" width="2" height="2" fill="#1e90ff"/>
<rect x="578" y="490" width="2" height="2" fill="#1e90ff"/>
<rect x="580" y="491" width="1" height="2" fill="#1e90ff"/>
<rect x="581" y="492" width="7" height="2" fill="#1e90ff"/>
<rect x="588" y="493" width="27" height="2" fill="#1e90ff"/>
<rect x="615" y="494" width="5" height="2" fill="#1e90ff"/>
<rect x="620" y="495" width="27" height="2" fill="#1e90ff"/>
<rect x="647" y="494" width="3" height="2" fill="#1e90ff"/>
<rect x="650" y="493" width="3" height="2" fill="#1e90ff"/>
<rect x="653" y="492" width="9" height="2" fill="#1e90ff"/>
<rect x="662" y="491" width="2" height="2" fill="#1e90ff"/>
<rect x="664" y="490" width="2" height="2" fill="#1e90ff"/>
<rect x="666" y="489" width="3" height="2" fill="#1e90ff"/>
<rect x="669" y="488" width="2" height="2" fill="#1e90ff"/>
<rect x="671" y="487" width="2" height="2" fill="#1e90ff"/>
<rect x="673" y="486" width="3" height="2" fill="#1e90ff"/>
<rect x="676" y="485" width="7" height="2" fill="#1e90ff"/>
<rect x="683" y="486" width="5" height="2" fill="#1e90ff"/>
<rect x="688" y="485" width="32" height="2" fill="#1e90ff"/>
<rect x="720" y="486" width="4" height="2" fill="#1e90ff"/>
<rect x="724" y="487" width="3" height="2" fill="#1e90ff"/>
<rect x="727" y="486" width="3" height="2" fill="#1e90ff"/>
<rect x="730" y="485" width="3" height="2" fill="#1e90ff"/>
<rect x="733" y="484" width="26" height="2" fill="#1e90ff"/>
<rect x="759" y="483" width="3" height="2" fill="#1e90ff"/>
<rect x="762" y="482" width="5" height="2" fill="#1e90ff"/>
<rect x="767" y="483" width="3" height="2" fill="#1e90ff"/>
<rect x="770" y="484" width="2" height="2" fill="#1e90ff"/>
<rect x="772" y="485" width="11" height="2" fill="#1e90ff"/>
<rect x="783" y="484" width="4" height="2" fill="#1e90ff"/>
<rect x="787" y="483" width="8" height="2" fill="#1e90ff"/>
<rect x="795" y="484" width="17" height="2" fill="#1e90ff"/>
<rect x="812" y="483" width="10" height="2" fill="#1e90ff"/>
<rect x="822" y="482" width="3" height="2" fill="#1e90ff"/>
<rect x="825" y="481" width="3" height="2" fill="#1e90ff"/>
<rect x="828" y="480" width="13" height="2" fill="#1e90ff"/>
<rect x="841" y="481" width="4" height="2" fill="#1e90ff"/>
<rect x="845" y="482" width="10" height="2" fill="#1e90ff"/>
<rect x="855" y="483" width="3" height="2" fill="#1e90ff"/>
<rect x="858" y="484" width="3" height="2" fill="#1e90ff"/>
<rect x="861" y="485" width="19" height="2" fill="#1e90ff"/>
<rect x="880" y="486" width="3" height="2" fill="#1e90ff"/>
<rect x="883" y="487" width="2" height="2" fill="#1e90ff"/>
<rect x="885" y="488" width="7" height="2" fill="#1e90ff"/>
<rect x="892" y="489" width="12" height="2" fill="#1e90ff"/>
<rect x="904" y="490" width="4" height="2" fill="#1e90ff"/>
<rect x="908" y="491" width="11" height="2" fill="#1e90ff"/>
</g>
<g shape-rendering="crispEdges">
<rect x="5" y="90" width="1162" height="2" fill="#ff0000"/>
<rect x="5" y="160" width="1162" height="2" fill="#ff0000"/>
<rect x="4" y="158" width="6" height="6" fill="#ff0000"/>
<rect x="6" y="160" width="2" height="2" fill="#fff"/>
<rect x="1161" y="158" width="6" height="6" fill="#ff0000"/>
<rect x="1163" y="160" width="2" height="2" fill="#fff"/>
<rect x="5" y="230" width="1162" height="2" fill="#ff0000"/>
<rect x="4" y="228" width="6" height="6" fill="#ff0000"/>
<rect x="6" y="230" width="2" height="2" fill="#fff"/>
<rect x="1161" y="228" width="6" height="6" fill="#ff0000"/>
<rect x="1163" y="230" width="2" height="2" fill="#fff"/>
<rect x="5" y="317" width="1162" height="2" fill="#00ff00"/>
<rect x="4" y="315" width="6" height="6" fill="#00ff00"/>
<rect x="6" y="317" width="2" height="2" fill="#fff"/>
<rect x="1161" y="315" width="6" height="6" fill="#00ff00"/>
<rect x="1163" y="317" width="2" height="2" fill="#fff"/>
<rect x="5" y="387" width="1162" height="2" fill="#0000ff"/>
<rect x="4" y="385" width="6" height="6" fill="#0000ff"/>
<rect x="6" y="387" width="2" height="2" fill="#fff"/>
<rect x="1161" y="385" width="6" height="6" fill="#0000ff"/>
<rect x="1163" y="387" width="2" height="2" fill="#fff"/>
<rect x="1168" y="50" width="2" height="1" fill="#000"/>
<rect x="1168" y="83" width="2" height="1" fill="#000"/>
<rect x="1168" y="116" width="2" height="1" fill="#000"/>
<rect x="1168" y="149" width="2" height="1" fill="#000"/>
<rect x="1168" y="182" width="2" height="1" fill="#000"/>
<rect x="1168" y="215" width="2" height="1" fill="#000"/>
<rect x="1168" y="248" width="2" height="1" fill="#000"/>
<rect x="1168" y="281" width="2" height="1" fill="#000"/>
<rect x="1168" y="314" width="2" height="1" fill="#000"/>
<rect x="1168" y="347" width="2" height="1" fill="#000"/>
<rect x="1168" y="380" width="2" height="1" fill="#000"/>
<rect x="1168" y="413" width="2" height="1" fill="#000"/>
<rect x="1168" y="420" width="1" height="1" fill="#000"/>
<rect x="1168" y="428" width="1" height="1" fill="#000"/>
<rect x="1168" y="458" width="1" height="1" fill="#000"/>
<rect x="1168" y="463" width="1" height="1" fill="#000"/>
<rect x="1168" y="504" width="1" height="1" fill="#000"/>
<rect x="1167" y="417" width="1" height="1" fill="#fff"/>
<rect x="1167" y="460" width="1" height="1" fill="#fff"/>
<rect x="5" y="506" width="1" height="3" fill="#000"/>
<rect x="69" y="506" width="1" height="3" fill="#000"/>
<rect x="133" y="506" width="1" height="3" fill="#000"/>
<rect x="197" y="506" width="1" height="3" fill="#000"/>
<rect x="261" y="506" width="1" height="3" fill="#000"/>
<rect x="325" y="506" width="1" height="3" fill="#000"/>
<rect x="389" y="506" width="1" height="3" fill="#000"/>
<rect x="453" y="506" width="1" height="3" fill="#000"/>
<rect x="517" y="506" width="1" height="3" fill="#000"/>
<rect x="581" y="506" width="1" height="3" fill="#000"/>
<rect x="645" y="506" width="1" height="3" fill="#000"/>
<rect x="709" y="506" width="1" height="3" fill="#000"/>
<rect x="773" y="506" width="1" height="3" fill="#000"/>
<rect x="837" y="506" width="1" height="3" fill="#000"/>
<rect x="901" y="506" width="1" height="3" fill="#000"/>
<rect x="1169" y="379" width="41" height="11" fill="#000"/>
</g>
<text x="1173.4" y="54" font-size="10" fill="#000" textLength="32" lengthAdjust="spacingAndGlyphs" stroke="#000" stroke-width="0.18">1.09180</text>
<text x="1173.4" y="87" font-size="10" fill="#000" textLength="32" lengthAdjust="spacingAndGlyphs" stroke="#000" stroke-width="0.18">1.08230</text>
<text x="1173.4" y="120" font-size="10" fill="#000" textLength="32" lengthAdjust="spacingAndGlyphs" stroke="#000" stroke-width="0.18">1.07280</text>
<text x="1173.4" y="153" font-size="10" fill="#000" textLength="32" lengthAdjust="spacingAndGlyphs" stroke="#000" stroke-width="0.18">1.06355</text>
<text x="1173.4" y="186" font-size="10" fill="#000" textLength="32" lengthAdjust="spacingAndGlyphs" stroke="#000" stroke-width="0.18">1.05405</text>
<text x="1173.4" y="219" font-size="10" fill="#000" textLength="32" lengthAdjust="spacingAndGlyphs" stroke="#000" stroke-width="0.18">1.04455</text>
<text x="1173.4" y="252" font-size="10" fill="#000" textLength="32" lengthAdjust="spacingAndGlyphs" stroke="#000" stroke-width="0.18">1.03505</text>
<text x="1173.4" y="285" font-size="10" fill="#000" textLength="32" lengthAdjust="spacingAndGlyphs" stroke="#000" stroke-width="0.18">1.02580</text>
<text x="1173.4" y="318" font-size="10" fill="#000" textLength="32" lengthAdjust="spacingAndGlyphs" stroke="#000" stroke-width="0.18">1.01630</text>
<text x="1173.4" y="351" font-size="10" fill="#000" textLength="32" lengthAdjust="spacingAndGlyphs" stroke="#000" stroke-width="0.18">1.00680</text>
<text x="1173.4" y="384" font-size="10" fill="#000" textLength="32" lengthAdjust="spacingAndGlyphs" stroke="#000" stroke-width="0.18">0.99755</text>
<text x="1173.4" y="417" font-size="10" fill="#000" textLength="32" lengthAdjust="spacingAndGlyphs" stroke="#000" stroke-width="0.18">0.98805</text>
<text x="1173.4" y="388" font-size="10" fill="#fff" textLength="32" lengthAdjust="spacingAndGlyphs" stroke="#fff" stroke-width="0.18">0.99642</text>
<g shape-rendering="crispEdges">
<rect x="1169" y="85" width="41" height="11" fill="#ff0000"/>
<rect x="1169" y="155" width="41" height="11" fill="#ff0000"/>
<rect x="1169" y="225" width="41" height="11" fill="#ff0000"/>
<rect x="1169" y="312" width="41" height="11" fill="#00ff00"/>
<rect x="1169" y="382" width="41" height="11" fill="#0000ff"/>
</g>
<text x="1173.4" y="94" font-size="10" fill="#fff" textLength="32" lengthAdjust="spacingAndGlyphs" stroke="#fff" stroke-width="0.18">1.08011</text>
<text x="1173.4" y="164" font-size="10" fill="#fff" textLength="32" lengthAdjust="spacingAndGlyphs" stroke="#fff" stroke-width="0.18">1.06007</text>
<text x="1173.4" y="234" font-size="10" fill="#fff" textLength="32" lengthAdjust="spacingAndGlyphs" stroke="#fff" stroke-width="0.18">1.04016</text>
<text x="1173.4" y="321" font-size="10" fill="#fff" textLength="32" lengthAdjust="spacingAndGlyphs" stroke="#fff" stroke-width="0.18">1.01514</text>
<text x="1173.4" y="391" font-size="10" fill="#fff" textLength="32" lengthAdjust="spacingAndGlyphs" stroke="#fff" stroke-width="0.18">0.99518</text>
<text x="1171.5" y="429" font-size="10" fill="#000" textLength="32.5" lengthAdjust="spacingAndGlyphs" stroke="#000" stroke-width="0.18">0.00399</text>
<text x="1171.5" y="432" font-size="10" fill="#000" textLength="17.5" lengthAdjust="spacingAndGlyphs" stroke="#000" stroke-width="0.18">0.00</text>
<text x="1171.5" y="456" font-size="10" fill="#000" textLength="42" lengthAdjust="spacingAndGlyphs" stroke="#000" stroke-width="0.18">-0.014693</text>
<text x="1171.5" y="472" font-size="10" fill="#000" textLength="14.5" lengthAdjust="spacingAndGlyphs" stroke="#000" stroke-width="0.18">100</text>
<text x="1171" y="479" font-size="10" fill="#000" textLength="9.5" lengthAdjust="spacingAndGlyphs" stroke="#000" stroke-width="0.18">70</text>
<text x="1171" y="496" font-size="10" fill="#000" textLength="9.5" lengthAdjust="spacingAndGlyphs" stroke="#000" stroke-width="0.18">30</text>
<text x="1171.5" y="502" font-size="10" fill="#000" textLength="4.5" lengthAdjust="spacingAndGlyphs" stroke="#000" stroke-width="0.18">0</text>
<text x="20.4" y="36" font-size="10" fill="#000" textLength="66.3" lengthAdjust="spacingAndGlyphs" stroke="#000" stroke-width="0.18">EURUSD-,Daily</text>
<text x="93.2" y="36" font-size="10" fill="#000" textLength="32.2" lengthAdjust="spacingAndGlyphs" stroke="#000" stroke-width="0.18">0.99377</text>
<text x="130" y="36" font-size="10" fill="#000" textLength="32.2" lengthAdjust="spacingAndGlyphs" stroke="#000" stroke-width="0.18">1.00171</text>
<text x="165.7" y="36" font-size="10" fill="#000" textLength="32.2" lengthAdjust="spacingAndGlyphs" stroke="#000" stroke-width="0.18">0.98994</text>
<text x="201.8" y="36" font-size="10" fill="#000" textLength="32.2" lengthAdjust="spacingAndGlyphs" stroke="#000" stroke-width="0.18">0.99642</text>
<text x="9.3" y="431" font-size="10" fill="#000" textLength="153.5" lengthAdjust="spacingAndGlyphs" stroke="#000" stroke-width="0.18">MACD(12,26,9) -0.006010 -0.002384</text>
<text x="9.3" y="474" font-size="10" fill="#000" textLength="67.5" lengthAdjust="spacingAndGlyphs" stroke="#000" stroke-width="0.18">RSI(14) 33.2909</text>
<path d="M8 31H15L11.5 35Z" fill="#000"/>
<path d="M928.5 25H938.5L933.5 30Z" fill="#000"/>
<text x="4.6" y="518" font-size="10" fill="#000" textLength="50" lengthAdjust="spacingAndGlyphs" stroke="#000" stroke-width="0.18">12 Apr 2022</text>
<text x="68.3" y="518" font-size="10" fill="#000" textLength="50.3" lengthAdjust="spacingAndGlyphs" stroke="#000" stroke-width="0.18">21 Apr 2022</text>
<text x="133.0" y="518" font-size="10" fill="#000" textLength="48.4" lengthAdjust="spacingAndGlyphs" stroke="#000" stroke-width="0.18">1 May 2022</text>
<text x="196.8" y="518" font-size="10" fill="#000" textLength="53" lengthAdjust="spacingAndGlyphs" stroke="#000" stroke-width="0.18">10 May 2022</text>
<text x="260.6" y="518" font-size="10" fill="#000" textLength="54" lengthAdjust="spacingAndGlyphs" stroke="#000" stroke-width="0.18">19 May 2022</text>
<text x="324.3" y="518" font-size="10" fill="#000" textLength="54" lengthAdjust="spacingAndGlyphs" stroke="#000" stroke-width="0.18">29 May 2022</text>
<text x="388.1" y="518" font-size="10" fill="#000" textLength="44.4" lengthAdjust="spacingAndGlyphs" stroke="#000" stroke-width="0.18">7 Jun 2022</text>
<text x="452.5" y="518" font-size="10" fill="#000" textLength="48.9" lengthAdjust="spacingAndGlyphs" stroke="#000" stroke-width="0.18">16 Jun 2022</text>
<text x="516.3" y="518" font-size="10" fill="#000" textLength="49.2" lengthAdjust="spacingAndGlyphs" stroke="#000" stroke-width="0.18">26 Jun 2022</text>
<text x="580.3" y="518" font-size="10" fill="#000" textLength="42.3" lengthAdjust="spacingAndGlyphs" stroke="#000" stroke-width="0.18">5 Jul 2022</text>
<text x="644.7" y="518" font-size="10" fill="#000" textLength="45.8" lengthAdjust="spacingAndGlyphs" stroke="#000" stroke-width="0.18">14 Jul 2022</text>
<text x="708.4" y="518" font-size="10" fill="#000" textLength="46.1" lengthAdjust="spacingAndGlyphs" stroke="#000" stroke-width="0.18">24 Jul 2022</text>
<text x="773" y="518" font-size="10" fill="#000" textLength="46.3" lengthAdjust="spacingAndGlyphs" stroke="#000" stroke-width="0.18">2 Aug 2022</text>
<text x="837.1" y="518" font-size="10" fill="#000" textLength="51.2" lengthAdjust="spacingAndGlyphs" stroke="#000" stroke-width="0.18">11 Aug 2022</text>
<text x="900.2" y="518" font-size="10" fill="#000" textLength="52.3" lengthAdjust="spacingAndGlyphs" stroke="#000" stroke-width="0.18">21 Aug 2022</text>
<text x="-4.3" y="12" font-size="9.6" fill="#444444" textLength="10.6" lengthAdjust="spacingAndGlyphs" stroke="#444444" stroke-width="0.1">15</text>
<text x="16.5" y="12" font-size="9.6" fill="#444444" textLength="18" lengthAdjust="spacingAndGlyphs" stroke="#444444" stroke-width="0.1">M30</text>
<text x="48" y="12" font-size="9.6" fill="#444444" textLength="11" lengthAdjust="spacingAndGlyphs" stroke="#444444" stroke-width="0.1">H1</text>
<text x="74.7" y="12" font-size="9.6" fill="#444444" textLength="12" lengthAdjust="spacingAndGlyphs" stroke="#444444" stroke-width="0.1">H4</text>
<text x="103.3" y="12" font-size="9.6" fill="#444444" textLength="11.6" lengthAdjust="spacingAndGlyphs" stroke="#444444" stroke-width="0.1">D1</text>
<text x="131.4" y="12" font-size="9.6" fill="#444444" textLength="14" lengthAdjust="spacingAndGlyphs" stroke="#444444" stroke-width="0.1">W1</text>
<text x="158" y="12" font-size="9.6" fill="#444444" textLength="14.2" lengthAdjust="spacingAndGlyphs" stroke="#444444" stroke-width="0.1">MN</text>
<path d="M950.3 350.8L951.5 350.1L996.8 410L999.9 407.5L1002.6 425.3L987.7 416.2L990.8 414.4Z" fill="#8dc21f"/>
<g shape-rendering="crispEdges">
<rect x="0" y="526" width="1210" height="1" fill="#e8e8e8"/>
<rect x="0" y="529" width="1210" height="22" fill="#f0f0f0"/>
<rect x="0" y="528" width="1210" height="1" fill="#000"/>
<rect x="0" y="529" width="1" height="18" fill="#a0a0a0"/>
<rect x="1" y="529" width="1" height="18" fill="#696969"/>
<rect x="6" y="528" width="108" height="19" fill="#000"/>
<rect x="7" y="527" width="106" height="19" fill="#fff"/>
<rect x="222" y="532" width="1" height="13" fill="#8c8c8c"/>
<rect x="330" y="532" width="1" height="13" fill="#8c8c8c"/>
<rect x="438" y="532" width="1" height="13" fill="#8c8c8c"/>
<rect x="550" y="532" width="1" height="13" fill="#8c8c8c"/>
<rect x="658" y="532" width="1" height="13" fill="#8c8c8c"/>
<rect x="738" y="532" width="1" height="13" fill="#8c8c8c"/>
<rect x="830" y="532" width="1" height="13" fill="#8c8c8c"/>
<rect x="906" y="532" width="1" height="13" fill="#8c8c8c"/>
<rect x="998" y="532" width="1" height="13" fill="#8c8c8c"/>
<rect x="1078" y="532" width="1" height="13" fill="#8c8c8c"/>
<rect x="1158" y="532" width="1" height="13" fill="#8c8c8c"/>
</g>
<text x="17.5" y="543" font-size="12.5" fill="#000" textLength="84.3" lengthAdjust="spacingAndGlyphs" stroke="#000" stroke-width="0.1">EURUSD-,Daily</text>
<text x="124.2" y="543" font-size="12.5" fill="#727272" textLength="86.5" lengthAdjust="spacingAndGlyphs" stroke="#727272" stroke-width="0.1">AUDUSD-,Daily</text>
<text x="234.5" y="543" font-size="12.5" fill="#727272" textLength="83.4" lengthAdjust="spacingAndGlyphs" stroke="#727272" stroke-width="0.1">USDCHF-,Daily</text>
<text x="341.4" y="543" font-size="12.5" fill="#727272" textLength="85.7" lengthAdjust="spacingAndGlyphs" stroke="#727272" stroke-width="0.1">USDCAD-,Daily</text>
<text x="450.4" y="543" font-size="12.5" fill="#727272" textLength="87.5" lengthAdjust="spacingAndGlyphs" stroke="#727272" stroke-width="0.1">USDCNH-,Daily</text>
<text x="561.4" y="543" font-size="12.5" fill="#727272" textLength="85.7" lengthAdjust="spacingAndGlyphs" stroke="#727272" stroke-width="0.1">XAUUSD-,Daily</text>
<text x="669.4" y="543" font-size="12.5" fill="#727272" textLength="56.5" lengthAdjust="spacingAndGlyphs" stroke="#727272" stroke-width="0.1">UKOil-,H4</text>
<text x="750.4" y="543" font-size="12.5" fill="#727272" textLength="67.5" lengthAdjust="spacingAndGlyphs" stroke="#727272" stroke-width="0.1">USOil-,Daily</text>
<text x="840.7" y="543" font-size="12.5" fill="#727272" textLength="54" lengthAdjust="spacingAndGlyphs" stroke="#727272" stroke-width="0.1">HK50-,H1</text>
<text x="916.9" y="543" font-size="12.5" fill="#727272" textLength="70" lengthAdjust="spacingAndGlyphs" stroke="#727272" stroke-width="0.1">EURCHF-,H1</text>
<text x="1010.7" y="543" font-size="12.5" fill="#727272" textLength="55.1" lengthAdjust="spacingAndGlyphs" stroke="#727272" stroke-width="0.1">USOil-,H4</text>
<text x="1089.6" y="543" font-size="12.5" fill="#727272" textLength="56.4" lengthAdjust="spacingAndGlyphs" stroke="#727272" stroke-width="0.1">UKOil-,H4</text>
<path d="M1186.5 534V540.5L1182.5 537.2Z" fill="#000"/>
<path d="M1201.5 534V540.5L1205.5 537.2Z" fill="#8c8c8c"/>
</svg></body></html>
